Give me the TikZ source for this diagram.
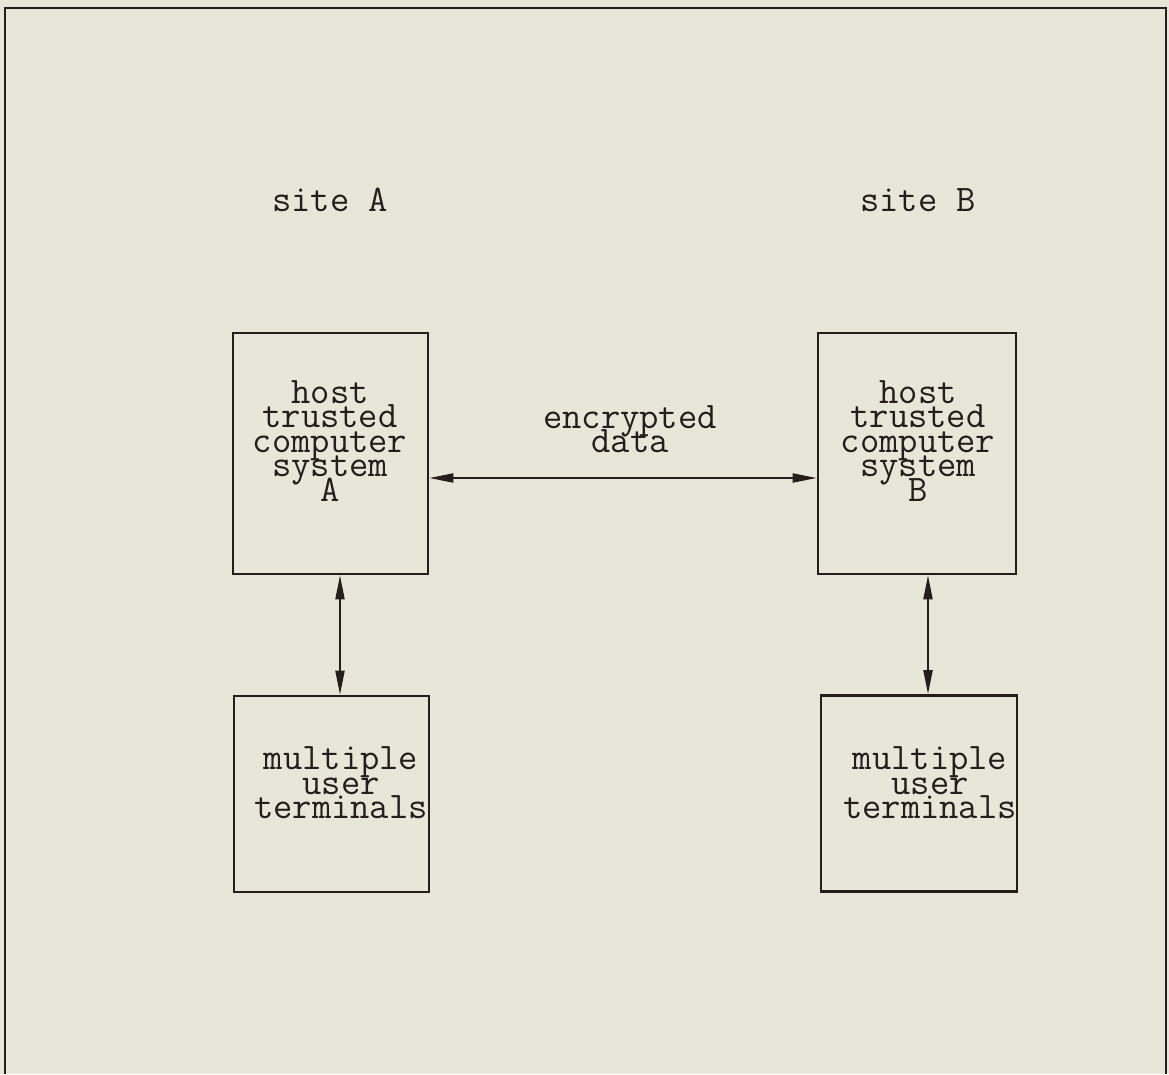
\documentclass[tikz,border=0pt]{standalone}
\usepackage{tikz}
\usetikzlibrary{arrows.meta}
\definecolor{paperTone}{RGB}{231,230,217}
\definecolor{inkTone}{RGB}{38,30,28}
\begin{document}
\begin{tikzpicture}[x=1pt,y=-1pt,
  font=\ttfamily\fontsize{37.5}{24.5}\selectfont\setlength{\lineskiplimit}{-40pt},
  hostbox/.style={draw=inkTone,line width=2.6pt,minimum width=195pt,minimum height=241pt,inner sep=0pt},
  termbox/.style={draw=inkTone,line width=2.6pt,minimum width=195pt,minimum height=196pt,inner sep=0pt},
  caption/.style={text=inkTone,align=center,inner sep=0pt},
  arr/.style={{Triangle[length=24pt,width=9pt]}-{Triangle[length=24pt,width=9pt]},line width=2pt,inkTone}
]
\fill[paperTone] (0,0) rectangle (1169,1074);
\useasboundingbox (0,0) rectangle (1169,1074);
\draw[inkTone,line width=2.6pt] (5,1074) -- (5,8) -- (1166,8) -- (1166,1074);

\node[caption] (siteA) at (330,200) {site A};
\node[caption] (siteB) at (918,200) {site B};

\node[hostbox] (hostA) at (330.5,453.5) {};
\node[caption] (hostAtext) at (330,441) {host\\trusted\\computer\\system\\A};
\node[hostbox,minimum width=198pt] (hostB) at (917,453.5) {};
\node[caption] (hostBtext) at (918,441) {host\\trusted\\computer\\system\\B};

\node[termbox] (termA) at (331.5,794) {};
\node[caption] (termAtext) at (341,783) {multiple\\user\\terminals};
\node[termbox,minimum width=196pt] (termB) at (919,793.5) {};
\node[caption] (termBtext) at (930,783) {multiple\\user\\terminals};

\node[caption] (link) at (630,429) {encrypted\\data};

\draw[arr] ([yshift=-24.5pt]hostA.east) -- ([yshift=-24.5pt]hostB.west);
\draw[arr] ([xshift=9.5pt]hostA.south) -- ([xshift=9.5pt]hostA.south |- termA.north);
\draw[arr] ([xshift=11pt]hostB.south) -- ([xshift=11pt]hostB.south |- termB.north);
\end{tikzpicture}
\end{document}
